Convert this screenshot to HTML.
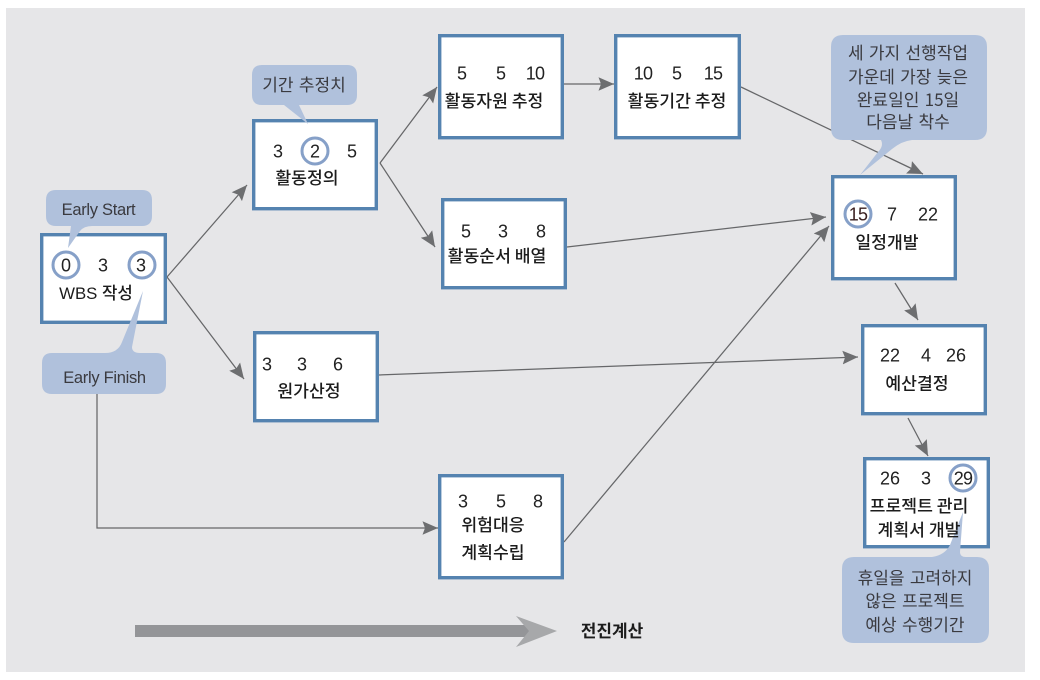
<!DOCTYPE html>
<html><head><meta charset="utf-8">
<style>
html,body{margin:0;padding:0;background:#fff;width:1040px;height:680px;overflow:hidden}
svg{display:block}
text{font-family:"Liberation Sans","Noto Sans CJK KR",sans-serif;text-anchor:middle}
.n{font-size:18px;fill:#222;transform:translateY(.4px)}
.l{font-family:"Noto Sans CJK KR","Liberation Sans",sans-serif;font-size:17.2px;font-weight:500;fill:#1c1c1c}
.w{font-family:"Liberation Sans","Noto Sans CJK KR",sans-serif;font-size:16.8px;font-weight:500;fill:#1c1c1c}
.b{font-family:"Noto Sans CJK KR","Liberation Sans",sans-serif;font-size:17px;word-spacing:1.5px;fill:#3a3a3f}
.e{font-size:16.5px;fill:#3a3a3f;letter-spacing:-.3px}
.box{fill:#fff;stroke:#5583b0;stroke-width:3.4}
.c{fill:none;stroke:#86a0c8;stroke-width:3}
.ln{fill:none;stroke:#666769;stroke-width:1.25;marker-end:url(#a)}
.bub{fill:#b0c1dc}
</style></head><body>
<svg width="1040" height="680" viewBox="0 0 1040 680" xmlns="http://www.w3.org/2000/svg">
<defs>
<marker id="a" markerUnits="userSpaceOnUse" markerWidth="18" markerHeight="16" refX="15.5" refY="7" orient="auto">
<path d="M0,0.2 L15.5,7 L0,13.8 L2.5,7 Z" fill="#6d6e70"/>
</marker>
</defs>
<rect x="6" y="8" width="1019" height="664" fill="#e6e6e8"/>

<!-- big arrow -->
<rect x="135" y="625" width="394" height="12" fill="#949598"/>
<polygon points="516,616 557,631 516,647 529,631" fill="#a7a8aa"/>
<text class="l" x="612" y="637" style="font-weight:700;font-size:17px">전진계산</text>

<!-- connectors -->
<path class="ln" d="M167,277 L247,185"/>
<path class="ln" d="M167,277 L244,379"/>
<path class="ln" d="M380,163 L437,87"/>
<path class="ln" d="M380,163 L435,247"/>
<path class="ln" d="M564,84 L614,84"/>
<path class="ln" d="M741,87 L923,174"/>
<path class="ln" d="M567,247 L826,217"/>
<path class="ln" d="M564,542 L829,226"/>
<path class="ln" d="M379,375 L858,357"/>
<path class="ln" d="M895,283 L918,320"/>
<path class="ln" d="M908,418 L928,456"/>
<path class="ln" d="M97,394 L97,528 L438,528"/>

<!-- boxes -->
<rect class="box" x="41.7" y="234.7" width="123.6" height="87.6"/>
<rect class="box" x="253.7" y="120.7" width="122.6" height="88"/>
<rect class="box" x="254.7" y="332.7" width="122.6" height="88"/>
<rect class="box" x="439.7" y="35.7" width="122.6" height="102"/>
<rect class="box" x="615.7" y="35.7" width="123.6" height="102"/>
<rect class="box" x="442.7" y="199.7" width="122.6" height="88"/>
<rect class="box" x="439.7" y="475.7" width="122.6" height="102"/>
<rect class="box" x="832.7" y="176.7" width="122.6" height="102"/>
<rect class="box" x="862.7" y="325.7" width="122.6" height="88"/>
<rect class="box" x="864.7" y="458.7" width="123.6" height="88"/>

<!-- callouts -->
<path class="bub" d="M56,190 H142 Q152,190 152,200 V216 Q152,226 142,226 H92 Q84,226 80,231 L68,248 L71,226 H56 Q46,226 46,216 V200 Q46,190 56,190 Z"/>
<path class="bub" d="M52,353 H105 Q118,353 122,342 L143,291 L132,347 Q132,353 140,353 H156 Q166,353 166,363 V384 Q166,394 156,394 H52 Q42,394 42,384 V363 Q42,353 52,353 Z"/>
<path class="bub" d="M262,65 H347 Q357,65 357,75 V95 Q357,105 347,105 H299 L308,124 L284,105 H262 Q252,105 252,95 V75 Q252,65 262,65 Z"/>
<path class="bub" d="M843,35 H975 Q987,35 987,47 V128 Q987,140 975,140 H912 Q902,141 892,149 L860,175 L878,152 Q884,146 881,140 H843 Q831,140 831,128 V47 Q831,35 843,35 Z"/>
<path class="bub" d="M854,557 H932 Q945,555 950,545 L963,512 L960,552 Q960,557 966,557 H977 Q989,557 989,569 V631 Q989,643 977,643 H854 Q842,643 842,631 V569 Q842,557 854,557 Z"/>

<!-- circles -->
<circle class="c" cx="66" cy="265" r="13"/>
<circle class="c" cx="142" cy="265" r="13"/>
<circle class="c" cx="315" cy="151" r="13"/>
<circle class="c" cx="858" cy="214" r="13"/>
<circle class="c" cx="963" cy="478" r="13"/>

<!-- WBS -->
<text class="n" x="66" y="271">0</text><text class="n" x="103" y="271">3</text><text class="n" x="141" y="271">3</text>
<text class="w" x="96" y="299">WBS 작성</text>
<!-- 활동정의 -->
<text class="n" x="278" y="157">3</text><text class="n" x="315" y="157">2</text><text class="n" x="352" y="157">5</text>
<text class="l" x="307" y="184">활동정의</text>
<!-- 원가산정 -->
<text class="n" x="267" y="370">3</text><text class="n" x="302" y="370">3</text><text class="n" x="338" y="370">6</text>
<text class="l" x="309" y="397">원가산정</text>
<!-- 활동자원 -->
<text class="n" x="462" y="79">5</text><text class="n" x="501" y="79">5</text><text class="n" x="535" y="79" style="letter-spacing:-.8px">10</text>
<text class="l" x="494" y="107">활동자원 추정</text>
<!-- 활동기간 -->
<text class="n" x="643" y="79" style="letter-spacing:-.8px">10</text><text class="n" x="677" y="79">5</text><text class="n" x="713" y="79" style="letter-spacing:-.8px">15</text>
<text class="l" x="677" y="107">활동기간 추정</text>
<!-- 활동순서 -->
<text class="n" x="466" y="237">5</text><text class="n" x="503" y="237">3</text><text class="n" x="541" y="237">8</text>
<text class="l" x="497" y="262">활동순서 배열</text>
<!-- 위험대응 -->
<text class="n" x="463" y="507">3</text><text class="n" x="501" y="507">5</text><text class="n" x="538" y="507">8</text>
<text class="l" x="493" y="531">위험대응</text>
<text class="l" x="493" y="558.5">계획수립</text>
<!-- 일정개발 -->
<text class="n" x="858" y="220" style="letter-spacing:-.8px;fill:#3a2020">15</text><text class="n" x="892" y="220">7</text><text class="n" x="928" y="220">22</text>
<text class="l" x="887" y="248.5">일정개발</text>
<!-- 예산결정 -->
<text class="n" x="890" y="361">22</text><text class="n" x="926" y="361">4</text><text class="n" x="956" y="361">26</text>
<text class="l" x="917" y="389.5">예산결정</text>
<!-- 프로젝트 -->
<text class="n" x="890" y="484">26</text><text class="n" x="926" y="484">3</text><text class="n" x="963" y="484" style="letter-spacing:-.8px">29</text>
<text class="l" x="919" y="512">프로젝트 관리</text>
<text class="l" x="919" y="536">계획서 개발</text>

<!-- callout text -->
<text class="e" x="98.5" y="215">Early Start</text>
<text class="e" x="104.5" y="383">Early Finish</text>
<text class="b" x="304" y="91">기간 추정치</text>
<text class="b" x="908" y="59">세 가지 선행작업</text>
<text class="b" x="908" y="83">가운데 가장 늦은</text>
<text class="b" x="908" y="106">완료일인 15일</text>
<text class="b" x="908" y="128">다음날 착수</text>
<text class="b" x="915" y="584">휴일을 고려하지</text>
<text class="b" x="915" y="607">않은 프로젝트</text>
<text class="b" x="915" y="631">예상 수행기간</text>
</svg>
</body></html>
